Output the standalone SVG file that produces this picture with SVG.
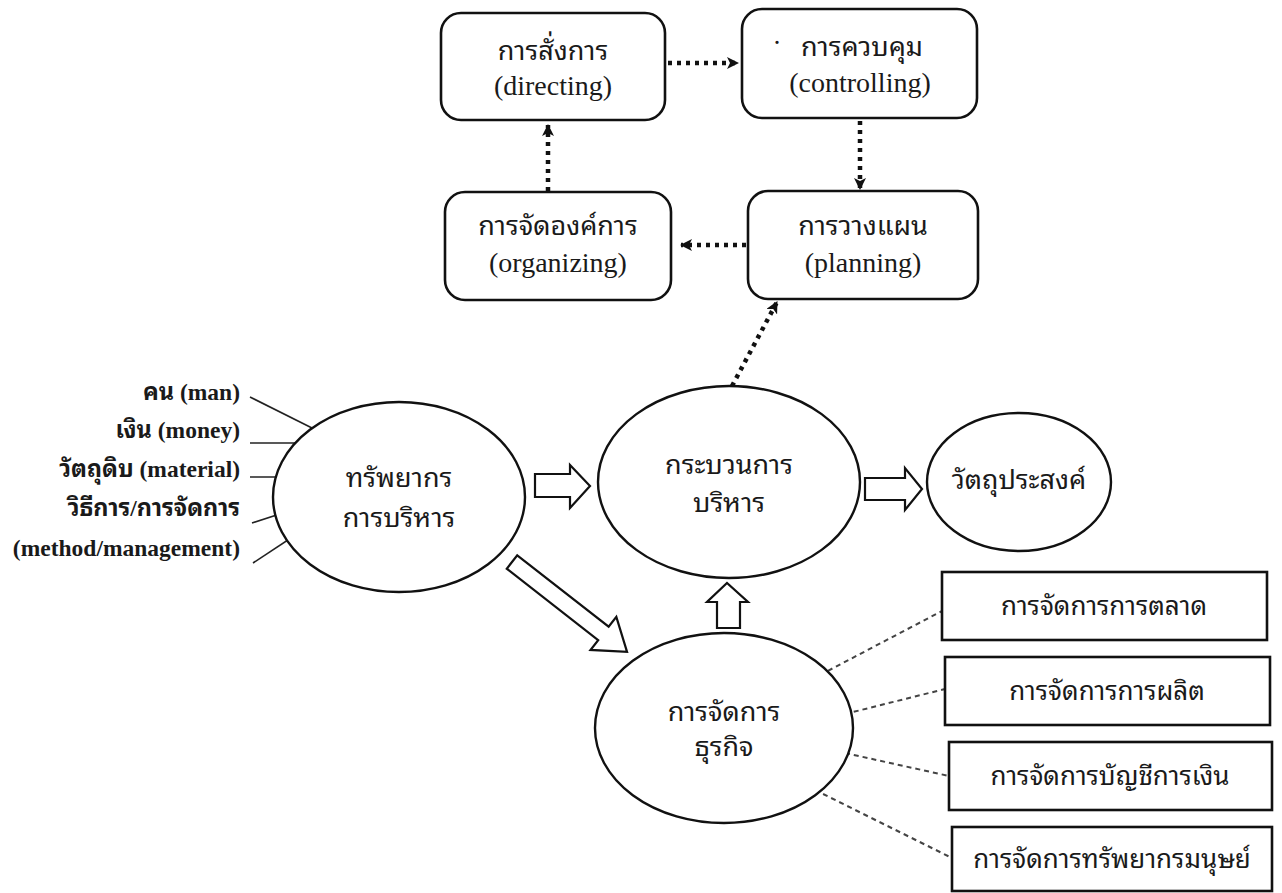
<svg xmlns="http://www.w3.org/2000/svg" width="1282" height="893" viewBox="0 0 1282 893">
  <style>
    .bg { fill: #ffffff; }
    .box { fill: #ffffff; stroke: #111111; stroke-width: 2.6; }
    .ell { fill: #ffffff; stroke: #111111; stroke-width: 2.4; }
    .hollow { fill: #ffffff; stroke: #111111; stroke-width: 2.2; stroke-linejoin: miter; }
    .dots { fill: none; stroke: #111111; stroke-width: 4.5; stroke-dasharray: 4 5; }
    .dash { fill: none; stroke: #444444; stroke-width: 2; stroke-dasharray: 5 4; }
    .tick { fill: none; stroke: #222222; stroke-width: 1.6; }
    text { fill: #1a1a1a; font-family: "Liberation Serif", "Noto Sans Thai Looped", "Noto Serif Thai", "Loma", "Garuda", "Norasi", "Noto Sans Thai", serif; }
    .lbl { font-size: 28px; text-anchor: middle; }
    .th { font-size: 27px; text-anchor: middle; }
    .side { font-size: 23.5px; font-weight: bold; text-anchor: end; }
    .sub { font-size: 26px; text-anchor: middle; }
  </style>
  <defs>
    <marker id="head" viewBox="0 0 12 12" refX="11" refY="6" markerWidth="12" markerHeight="12" markerUnits="userSpaceOnUse" orient="auto">
      <path d="M0,0 L12,6 L0,12 L3,6 Z" fill="#111111"/>
    </marker>
  </defs>
  <rect class="bg" x="0" y="0" width="1282" height="893"/>

  <g id="connectors">
    <!-- management cycle -->
    <line class="dots" x1="668" y1="63" x2="738" y2="63" marker-end="url(#head)"/>
    <line class="dots" x1="860" y1="121" x2="860" y2="189" marker-end="url(#head)"/>
    <line class="dots" x1="746" y1="245" x2="681" y2="245" marker-end="url(#head)"/>
    <line class="dots" x1="548" y1="191" x2="548" y2="125" marker-end="url(#head)"/>
    <line class="dots" x1="732" y1="386" x2="777" y2="302" marker-end="url(#head)"/>
    <!-- resource ticks -->
    <line class="tick" x1="250" y1="397" x2="320" y2="432"/>
    <line class="tick" x1="250" y1="443" x2="305" y2="443"/>
    <line class="tick" x1="250" y1="477" x2="290" y2="477"/>
    <line class="tick" x1="252" y1="523" x2="292" y2="510"/>
    <line class="tick" x1="253" y1="563" x2="300" y2="532"/>
    <!-- business areas -->
    <line class="dash" x1="820" y1="675" x2="942" y2="611"/>
    <line class="dash" x1="845" y1="714" x2="945" y2="689"/>
    <line class="dash" x1="845" y1="753" x2="949" y2="776"/>
    <line class="dash" x1="815" y1="790" x2="952" y2="858"/>
    <!-- hollow block arrows -->
    <polygon class="hollow" points="535,474 570,474 570,465 590,486 570,508 570,497 535,497"/>
    <polygon class="hollow" points="865,478 905,478 905,468 922,489 905,510 905,500 865,500"/>
    <polygon class="hollow" points="717,628 717,602 707,602 727,583 748,602 740,602 740,628"/>
    <polygon class="hollow" transform="translate(512,562) rotate(38)" points="0,-8.5 116,-8.5 116,-21 146,0 116,21 116,8.5 0,8.5"/>
  </g>

  <g id="directing">
    <rect class="box" x="441" y="13" width="224" height="107" rx="20"/>
    <text class="th" x="553" y="60">การสั่งการ</text>
    <text class="lbl" x="553" y="95">(directing)</text>
  </g>
  <g id="controlling">
    <rect class="box" x="742" y="9" width="235" height="109" rx="20"/>
    <text class="th" x="777" y="52">·</text>
    <text class="th" x="862" y="56">การควบคุม</text>
    <text class="lbl" x="860" y="92">(controlling)</text>
  </g>
  <g id="organizing">
    <rect class="box" x="445" y="192" width="226" height="108" rx="20"/>
    <text class="th" x="558" y="235">การจัดองค์การ</text>
    <text class="lbl" x="558" y="272">(organizing)</text>
  </g>
  <g id="planning">
    <rect class="box" x="748" y="191" width="230" height="108" rx="20"/>
    <text class="th" x="863" y="235">การวางแผน</text>
    <text class="lbl" x="863" y="272">(planning)</text>
  </g>

  <g id="resources">
    <text class="side" x="240" y="400">คน (man)</text>
    <text class="side" x="240" y="438">เงิน (money)</text>
    <text class="side" x="240" y="477">วัตถุดิบ (material)</text>
    <text class="side" x="240" y="516">วิธีการ/การจัดการ</text>
    <text class="side" x="240" y="556">(method/management)</text>
  </g>

  <g id="admin-resources">
    <ellipse class="ell" cx="399" cy="497" rx="126" ry="95"/>
    <text class="th" x="399" y="487">ทรัพยากร</text>
    <text class="th" x="399" y="527">การบริหาร</text>
  </g>
  <g id="admin-process">
    <ellipse class="ell" cx="729" cy="482" rx="131" ry="96"/>
    <text class="th" x="729" y="474">กระบวนการ</text>
    <text class="th" x="729" y="512">บริหาร</text>
  </g>
  <g id="objective">
    <ellipse class="ell" cx="1019" cy="482" rx="92" ry="69"/>
    <text class="th" x="1019" y="489">วัตถุประสงค์</text>
  </g>
  <g id="business">
    <ellipse class="ell" cx="724" cy="728" rx="129" ry="95"/>
    <text class="th" x="724" y="721">การจัดการ</text>
    <text class="th" x="724" y="756">ธุรกิจ</text>
  </g>

  <g id="marketing">
    <rect class="box" x="942" y="572" width="325" height="68"/>
    <text class="sub" x="1104" y="615">การจัดการการตลาด</text>
  </g>
  <g id="production">
    <rect class="box" x="945" y="657" width="325" height="68"/>
    <text class="sub" x="1107" y="700">การจัดการการผลิต</text>
  </g>
  <g id="finance">
    <rect class="box" x="949" y="742" width="323" height="68"/>
    <text class="sub" x="1110" y="785">การจัดการบัญชีการเงิน</text>
  </g>
  <g id="hr">
    <rect class="box" x="952" y="827" width="320" height="64"/>
    <text class="sub" x="1112" y="868">การจัดการทรัพยากรมนุษย์</text>
  </g>
</svg>
